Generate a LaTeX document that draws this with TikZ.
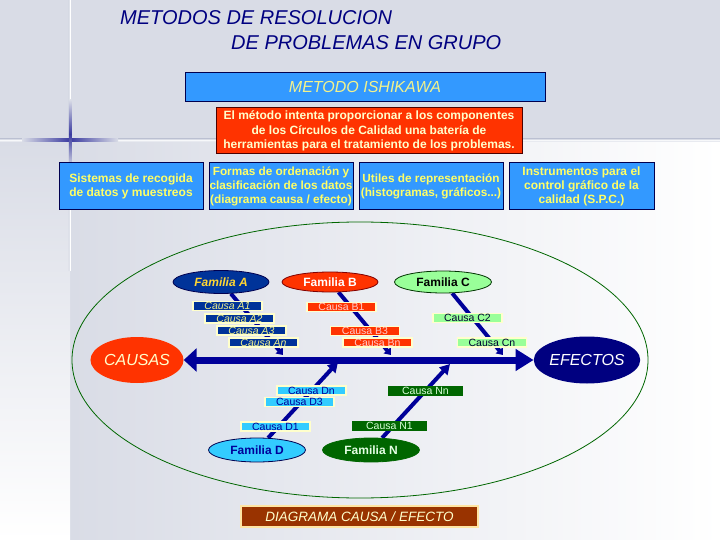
\documentclass[tikz,border=0pt]{standalone}
\usepackage{fontspec}
\setmainfont{Liberation Sans}
\usetikzlibrary{arrows.meta,shapes.geometric}
\pgfdeclarelayer{back}\pgfdeclarelayer{mid}
\pgfsetlayers{back,mid,main}
\definecolor{bgA}{HTML}{D9DCE6}
\definecolor{navyT}{HTML}{000080}
\definecolor{boxBlue}{HTML}{3399FF}
\definecolor{boxLine}{HTML}{000050}
\definecolor{paleY}{HTML}{FFFF66}
\definecolor{paleY2}{HTML}{F2F28C}
\definecolor{redF}{HTML}{FF3300}
\definecolor{cream}{HTML}{FFFFCC}
\definecolor{famAfill}{HTML}{003399}
\definecolor{famAtext}{HTML}{FFD633}
\definecolor{greenL}{HTML}{99FF99}
\definecolor{cyanF}{HTML}{33CCFF}
\definecolor{greenD}{HTML}{006600}
\definecolor{spineC}{HTML}{000099}
\definecolor{brownF}{HTML}{993300}
\definecolor{ellG}{HTML}{006600}
\definecolor{crossB}{HTML}{3A3AA0}
\tikzset{
  topbox/.style={rectangle, fill=boxBlue, draw=boxLine, line width=1pt, align=center,
     inner sep=0pt, text=paleY, font=\fontsize{12}{14}\selectfont\bfseries},
  fam/.style={ellipse, inner sep=0pt, line width=0.8pt, font=\fontsize{12}{12}\selectfont\bfseries},
  causabox/.style={rectangle, inner xsep=0pt, inner ysep=0.6pt, minimum height=8.5pt, line width=1.6pt,
     draw=cream, font=\fontsize{10.5}{10.5}\selectfont},
  bone/.style={line width=4pt, draw=spineC},
  bigell/.style={ellipse, inner sep=0pt, font=\fontsize{16}{16}\selectfont\itshape},
}
\begin{document}
\begin{tikzpicture}[x=1pt,y=-1pt]
\useasboundingbox (0,0) rectangle (720,540);
% ---------- background ----------
\begin{pgfonlayer}{back}
\fill[bgA] (0,0) rectangle (720,140);
\shade[left color=bgA, right color=white] (70,140) rectangle (720,540);
\shade[top color=bgA, bottom color=white] (0,140) rectangle (70,540);
\shade[top color=bgA, bottom color=bgA, middle color=white] (0,139) rectangle (720,141.5);
\shade[left color=bgA, right color=bgA, middle color=white] (68.8,0) rectangle (71.2,270);
\shade[left color=bgA, right color=bgA, middle color=crossB] (22,138.8) rectangle (118,141.4);
\shade[top color=bgA, bottom color=bgA, middle color=crossB] (68.8,100) rectangle (71.4,168);
\draw[ellG, line width=0.8pt] (360,360) ellipse [x radius=288, y radius=138];
\end{pgfonlayer}
% ---------- titles ----------
\node[anchor=west, inner sep=0pt, text=navyT, font=\fontsize{20}{24}\selectfont\itshape] (t1) at (120,18) {METODOS DE RESOLUCION};
\node[anchor=west, inner sep=0pt, text=navyT, font=\fontsize{20}{24}\selectfont\itshape] (t2) at (231,43) {DE PROBLEMAS EN GRUPO};
\node[rectangle, fill=boxBlue, draw=boxLine, line width=1pt, minimum width=360pt, minimum height=29pt,
  text=paleY2, font=\fontsize{16}{16}\selectfont\itshape] (ish) at (365,87) {METODO ISHIKAWA};
\node[rectangle, fill=redF, draw=black!70!red, line width=1pt, minimum width=306pt, minimum height=46pt,
  inner sep=0pt, align=center, text=cream, font=\fontsize{12}{14.5}\selectfont\bfseries] (red) at (369,131)
  {El método intenta proporcionar a los componentes\\de los Círculos de Calidad una batería de\\herramientas para el tratamiento de los problemas.};
% ---------- four boxes ----------
\node[topbox, minimum width=144pt, minimum height=47pt] (b1) at (131,186) {Sistemas de recogida\\de datos y muestreos};
\node[topbox, minimum width=144pt, minimum height=47pt, font=\fontsize{11.8}{14}\selectfont\bfseries] (b2) at (281,186) {Formas de ordenación y\\clasificación de los datos\\(diagrama causa / efecto)};
\node[topbox, minimum width=144pt, minimum height=47pt, font=\fontsize{11.8}{14}\selectfont\bfseries] (b3) at (431,186) {Utiles de representación\\(histogramas, gráficos...)};
\node[topbox, minimum width=145pt, minimum height=47pt] (b4) at (581.5,186) {Instrumentos para el\\control gráfico de la\\calidad (S.P.C.)};
% ---------- causas / efectos ----------
\node[bigell, fill=redF, minimum width=85pt, minimum height=46pt, text=cream] (causas) at (137,360) {CAUSAS};
\node[bigell, fill=navyT, minimum width=85pt, minimum height=47pt, text=white] (efectos) at (587,360) {EFECTOS};
% ---------- families ----------
\node[fam, fill=famAfill, draw=boxLine, minimum width=96pt, minimum height=23pt, text=famAtext, font=\fontsize{12}{12}\selectfont\bfseries\itshape] (fA) at (221,282) {Familia A};
\node[fam, fill=redF, draw=red!50!black, minimum width=96pt, minimum height=20pt, text=white] (fB) at (330,282) {Familia B};
\node[fam, fill=greenL, draw=black!80!green, minimum width=97pt, minimum height=22pt, text=black] (fC) at (443,282) {Familia C};
\node[fam, fill=cyanF, draw=boxLine, minimum width=97pt, minimum height=24pt, text=spineC] (fD) at (257,450) {Familia D};
\node[fam, fill=greenD, draw=black!60!green, minimum width=97pt, minimum height=24pt, text=white!90!green] (fN) at (371,450) {Familia N};
% ---------- cause labels ----------
\begin{scope}[every node/.append style={causabox, minimum width=69pt}]
\node[fill=famAfill, text=paleY2, font=\fontsize{10.5}{10.5}\selectfont\itshape] (a1) at (227.5,306) {Causa A1};
\node[fill=famAfill, text=paleY2, font=\fontsize{10.5}{10.5}\selectfont\itshape] (a2) at (239.5,318.5) {Causa A2};
\node[fill=famAfill, text=paleY2, font=\fontsize{10.5}{10.5}\selectfont\itshape] (a3) at (251.5,330.5) {Causa A3};
\node[fill=famAfill, text=paleY2, font=\fontsize{10.5}{10.5}\selectfont\itshape] (an) at (263.5,342.5) {Causa An};
\node[fill=redF, text=red!20!white] (b1c) at (341.5,307) {Causa B1};
\node[fill=redF, text=red!20!white] (b3c) at (365,331) {Causa B3};
\node[fill=redF, text=red!20!white] (bnc) at (377.5,342.5) {Causa Bn};
\node[fill=greenL, text=black!80!blue] (c2) at (467.5,318) {Causa C2};
\node[fill=greenL, text=black!80!blue] (cn) at (492,342.5) {Causa Cn};
\node[fill=cyanF, text=spineC] (dn) at (311.5,390.5) {Causa Dn};
\node[fill=cyanF, text=spineC] (d3) at (299.5,402) {Causa D3};
\node[fill=cyanF, text=spineC] (d1) at (275.5,426.5) {Causa D1};
\node[fill=greenD, draw=greenD, minimum width=74pt, text=white!85!green] (nn) at (425.5,391) {Causa Nn};
\node[fill=greenD, draw=greenD, minimum width=74pt, text=white!85!green] (n1) at (389.5,426) {Causa N1};
\end{scope}
% ---------- bottom label ----------
\node[rectangle, fill=brownF, draw=cream!80!orange, line width=2pt, minimum width=237pt, minimum height=21pt,
  text=cream, font=\fontsize{13.5}{14}\selectfont\itshape] (diag) at (359.5,516.5) {DIAGRAMA CAUSA / EFECTO};
% ---------- bones ----------
\coordinate (tA) at (283,355);
\coordinate (tB) at (391,355);
\coordinate (tC) at (503,355);
\coordinate (tD) at (338,362);
\coordinate (tN) at (450,364);
\begin{pgfonlayer}{mid}
\draw[bone, -{Triangle[length=6pt,width=9pt]}] (fA) -- (tA);
\draw[bone, -{Triangle[length=6pt,width=9pt]}] (fB) -- (tB);
\draw[bone, -{Triangle[length=6pt,width=9pt]}] (fC) -- (tC);
\draw[bone, -{Triangle[length=10pt,width=11pt]}] (fD) -- (tD);
\draw[bone, -{Triangle[length=10pt,width=11pt]}] (fN) -- (tN);
\draw[line width=7pt, draw=spineC, {Triangle[length=13pt,width=23pt]}-{Triangle[length=18pt,width=21pt]}] (causas) -- (efectos);
\end{pgfonlayer}
\end{tikzpicture}
\end{document}
